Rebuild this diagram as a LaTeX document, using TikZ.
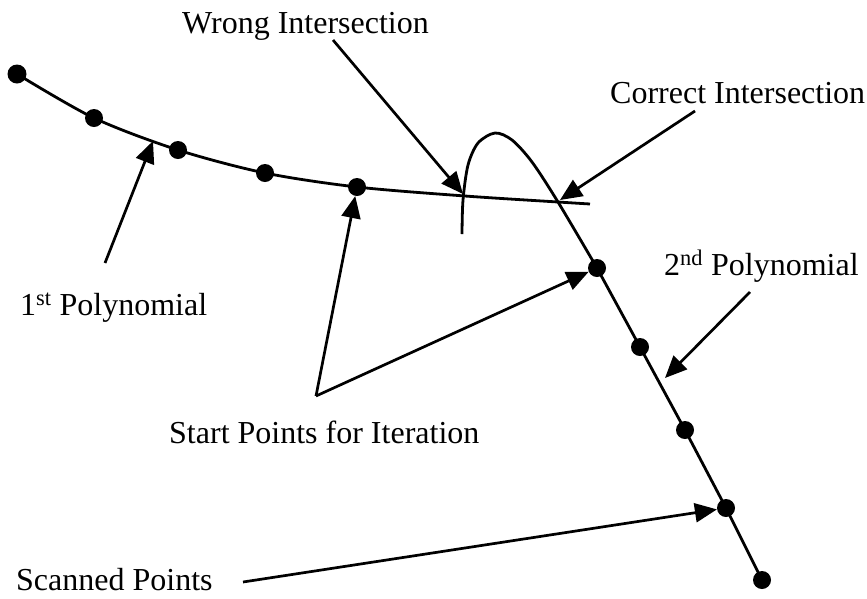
\documentclass[tikz,border=0pt]{standalone}
\usepackage{fontspec}
\setmainfont{Liberation Serif}
\usetikzlibrary{arrows.meta}
\begin{document}
\begin{tikzpicture}[x=1pt,y=-1pt,
  dot/.style={circle,fill=black,inner sep=0pt,minimum size=18pt},
  curve/.style={line width=2.8pt},
  arr/.style={line width=2.7pt,-{Triangle[length=22pt,width=19pt]}},
  lab/.style={font=\fontsize{32}{36}\selectfont,inner sep=0pt,anchor=base west}]
\useasboundingbox (0,0) rectangle (867,598);
% curves
\draw[curve] plot[smooth] coordinates {(17,74) (94,118) (178,150) (265,173) (357,187) (465,196) (558,202) (590,204)};
\draw[curve] plot[smooth] coordinates {(462,234) (463,200) (468,165) (478,143) (495,133) (512,140) (532,162) (558,202) (597,268)}
  -- (640,347) -- (685,430) -- (726,508) -- (762,580);
% points
\node[dot,minimum size=19pt] (p1) at (17,74) {};
\node[dot] (p2) at (94,118) {};
\node[dot] (p3) at (178,150) {};
\node[dot] (p4) at (265,173) {};
\node[dot] (p5) at (357,187) {};
\node[dot] (q1) at (597,268) {};
\node[dot] (q2) at (640,347) {};
\node[dot] (q3) at (685,430) {};
\node[dot] (q4) at (726,508) {};
\node[dot] (q5) at (762,580) {};
\coordinate (wi) at (463,194);
\coordinate (ci) at (560,200);
\coordinate (c1) at (153,141);
\coordinate (c2) at (665,378);
% labels
\node[lab] (lw) at (182,33) {Wrong Intersection};
\node[lab] (lc) at (610,103) {Correct Intersection};
\node[lab] (l1) at (20,315) {1\textsuperscript{st} Polynomial};
\node[lab] (l2) at (664,275) {2\textsuperscript{nd} Polynomial};
\node[lab] (ls) at (169,443) {Start Points for Iteration};
\node[lab] (lsc) at (16,590) {Scanned Points};
% arrow free ends
\coordinate (aw) at (333,40);
\coordinate (ac) at (695,111);
\coordinate (a1) at (105,263);
\coordinate (a2) at (750,292);
\coordinate (as) at (316,396);
\coordinate (asc) at (243,582);
% arrows
\draw[arr] (aw) -- (wi);
\draw[arr] (ac) -- (ci);
\draw[arr] (a1) -- (c1);
\draw[arr] (a2) -- (c2);
\draw[arr] (as) -- (p5);
\draw[arr] (as) -- (q1);
\draw[arr] (asc) -- (q4);
\end{tikzpicture}
\end{document}
